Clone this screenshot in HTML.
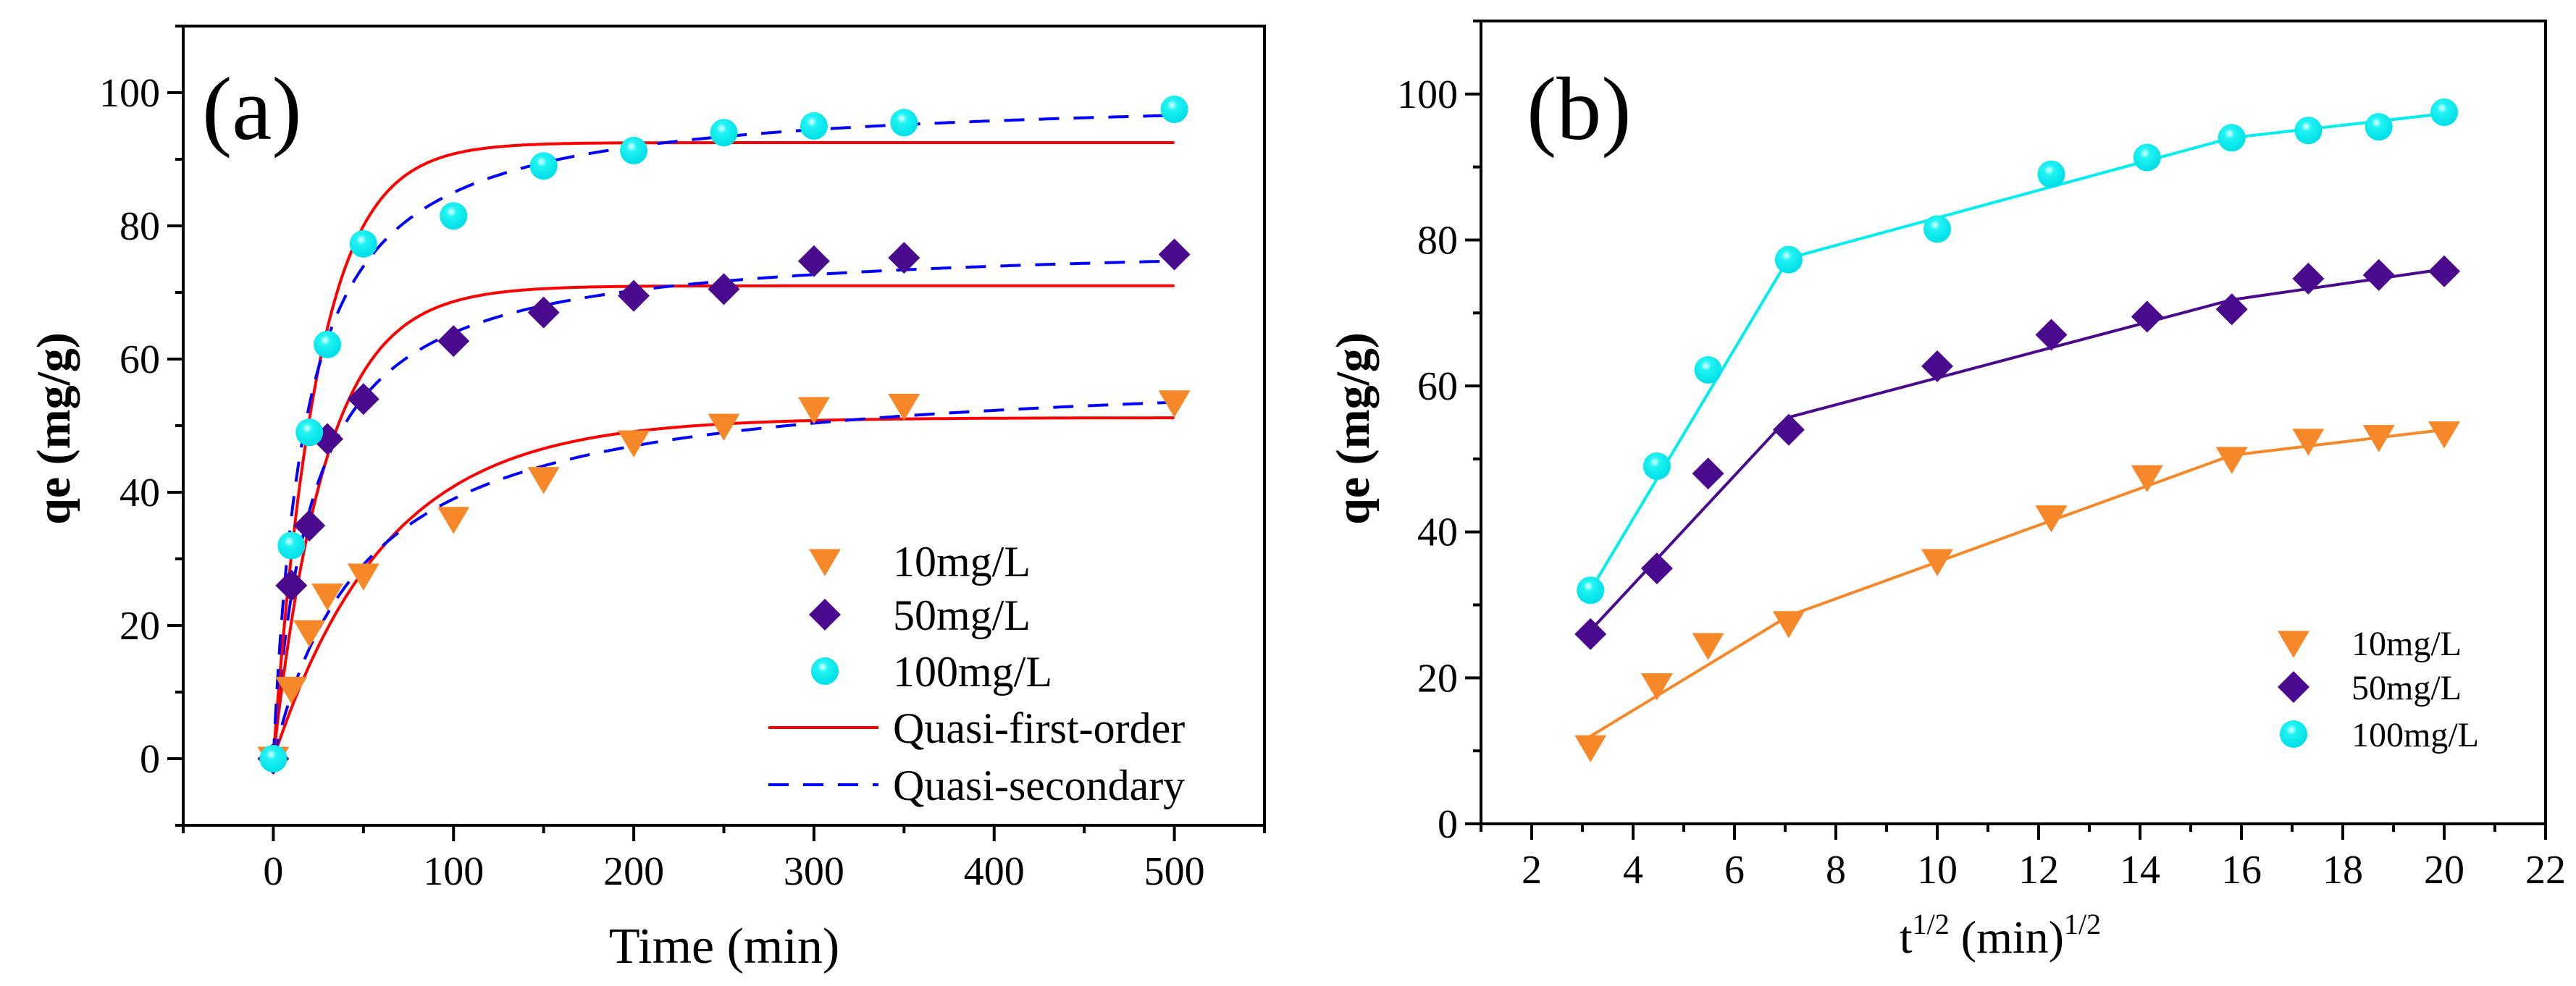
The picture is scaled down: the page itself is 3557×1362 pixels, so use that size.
<!DOCTYPE html>
<html><head><meta charset="utf-8"><style>
html,body{margin:0;padding:0;background:#fff;font-family:"Liberation Serif",serif;}
svg{display:block;font-family:"Liberation Serif",serif;}
svg text{font-family:"Liberation Serif",serif;}
</style></head><body>
<svg id="c" width="3557" height="1362" viewBox="0 0 3557 1362" xmlns="http://www.w3.org/2000/svg" font-family="Liberation Serif, serif">
<defs>
<radialGradient id="sph" cx="0.42" cy="0.35" r="0.6">
<stop offset="0" stop-color="#e8ffff"/><stop offset="0.3" stop-color="#22f4f4"/><stop offset="1" stop-color="#00e0e8"/>
</radialGradient>
</defs>
</svg>
<script>
// ---- data ----
const timesA = [0,10,20,30,50,100,150,200,250,300,350,500];
const q10 = [0,10.5,19,24.5,27.5,36,42,47.5,50,52.5,53,53.5];
const q50 = [0,26,35,48,54,62.7,67,69.5,70.5,74.7,75.2,75.7];
const q100 = [0,32,49,62.2,77.3,81.5,89,91.3,94,95,95.5,97.5];
const sqrtT = [3.16,4.47,5.48,7.07,10,12.25,14.14,15.81,17.32,18.71,20];
const b10 = [10.5,19,24.5,27.5,36,42,47.5,50,52.5,53,53.5];
const b50 = [26,35,48,54,62.7,67,69.5,70.5,74.7,75.2,75.7];
const b100 = [32,49,62.2,77.3,81.5,89,91.3,94,95,95.5,97.5];
const pfoQe = [51.2,71,92.5];
const pfoK = [0.016,0.034,0.04];
const psoQe = [59,78,100];
const psoQeK = [0.0195,0.0456,0.0567];
const ipdX10 = [3.16,7.07,15.81,20], ipdY10 = [12,28.5,50.5,54];
const ipdX50 = [3.16,7.07,15.81,20], ipdY50 = [26.5,55.7,71.8,76];
const ipdX100 = [3.16,7.07,15.81,20], ipdY100 = [32,77.5,94,97.3];
const xTicksA = [0,100,200,300,400,500];
const yTicksA = [0,20,40,60,80,100];
const xTicksB = [2,4,6,8,10,12,14,16,18,20,22];
const yTicksB = [0,20,40,60,80,100];

const svg = document.getElementById('c');
const NS = 'http://www.w3.org/2000/svg';
const FF = '"Liberation Serif", serif';
function mk(tag, attrs, parent){const e=document.createElementNS(NS,tag);for(const k in attrs)e.setAttribute(k,attrs[k]);if(tag==='text')e.style.fontFamily=FF;(parent||svg).appendChild(e);return e;}

const ORANGE='#f7882a', PURPLE='#4a0a8e';
const A={x0:253,x1:1746,y0:36,y1:1140,xmin:-50,xmax:550,ymin:-10,ymax:110};
const B={x0:2045,x1:3515,y0:29,y1:1138,xmin:1,xmax:22,ymin:0,ymax:110};
function sx(P,v){return P.x0+(v-P.xmin)/(P.xmax-P.xmin)*(P.x1-P.x0);}
function sy(P,v){return P.y1-(v-P.ymin)/(P.ymax-P.ymin)*(P.y1-P.y0);}

function tri(g,x,y,s){return mk('polygon',{points:`${x-s},${y-s*0.75} ${x+s},${y-s*0.75} ${x},${y+s*0.95}`,fill:ORANGE},g);}
function dia(g,x,y,s){return mk('polygon',{points:`${x},${y-s} ${x+s},${y} ${x},${y+s} ${x-s},${y}`,fill:PURPLE},g);}
function cir(g,x,y,r){return mk('circle',{cx:x,cy:y,r:r,fill:'url(#sph)'},g);}

function frame(P,name,xt,yt,xminor,yminor){
  const g=mk('g',{});
  
  
  mk('rect',{x:P.x0,y:P.y0,width:P.x1-P.x0,height:P.y1-P.y0,fill:'none',stroke:'#000','stroke-width':4},g);
  xt.forEach(v=>{const x=sx(P,v);mk('line',{x1:x,x2:x,y1:P.y1,y2:P.y1+22,stroke:'#000','stroke-width':4},g);
    const t=mk('text',{x:x,y:P.y1+82,'font-size':56,'text-anchor':'middle'},g);t.textContent=v;
    
    });
  xminor.forEach(v=>{const x=sx(P,v);mk('line',{x1:x,x2:x,y1:P.y1,y2:P.y1+11,stroke:'#000','stroke-width':4},g);});
  yt.forEach(v=>{const y=sy(P,v);mk('line',{x1:P.x0,x2:P.x0-22,y1:y,y2:y,stroke:'#000','stroke-width':4},g);
    const t=mk('text',{x:P.x0-32,y:y+19,'font-size':56,'text-anchor':'end'},g);t.textContent=v;
    
    });
  yminor.forEach(v=>{const y=sy(P,v);mk('line',{x1:P.x0,x2:P.x0-11,y1:y,y2:y,stroke:'#000','stroke-width':4},g);});
}
frame(A,'panel-a',xTicksA,yTicksA,[-50,50,150,250,350,450,550],[-10,10,30,50,70,90,110]);
frame(B,'panel-b',xTicksB,yTicksB,[1,3,5,7,9,11,13,15,17,19,21],[10,30,50,70,90,110]);

function curve(P,f,tmax,attrs,name){
  let d='';for(let i=0;i<=400;i++){const t=tmax*i/400;d+=(i?'L':'M')+sx(P,t).toFixed(1)+','+sy(P,f(t)).toFixed(1);}
  const e=mk('path',Object.assign({d:d,fill:'none'},attrs));
  
  
}
for(let i=0;i<3;i++){
  curve(A,t=>pfoQe[i]*(1-Math.exp(-pfoK[i]*t)),500,{stroke:'#ff0000','stroke-width':4},'pfo-fit-line');
  curve(A,t=>psoQe[i]*psoQeK[i]*t/(1+psoQeK[i]*t),500,{stroke:'#0000ff','stroke-width':4,'stroke-dasharray':'28,20'},'pso-fit-line');
}
const gA=mk('g',{});


timesA.forEach((t,i)=>{tri(gA,sx(A,t),sy(A,q10[i]),22);});
timesA.forEach((t,i)=>{dia(gA,sx(A,t),sy(A,q50[i]),22);});
timesA.forEach((t,i)=>{cir(gA,sx(A,t),sy(A,q100[i]),19);});

function poly(P,xs,ys,col,name){const e=mk('polyline',{points:xs.map((x,i)=>sx(P,x)+','+sy(P,ys[i])).join(' '),fill:'none',stroke:col,'stroke-width':4});
  
  }
poly(B,ipdX10,ipdY10,ORANGE,'ipd-line-10');
poly(B,ipdX50,ipdY50,PURPLE,'ipd-line-50');
poly(B,ipdX100,ipdY100,'#00eeee','ipd-line-100');
const gB=mk('g',{});


sqrtT.forEach((x,i)=>{tri(gB,sx(B,x),sy(B,b10[i]),22);});
sqrtT.forEach((x,i)=>{dia(gB,sx(B,x),sy(B,b50[i]),22);});
sqrtT.forEach((x,i)=>{cir(gB,sx(B,x),sy(B,b100[i]),19);});

const lgA=mk('g',{});


tri(lgA,1139,775,22);dia(lgA,1139,849,22);cir(lgA,1139,927,19);
mk('line',{x1:1061,x2:1213,y1:1005,y2:1005,stroke:'#ff0000','stroke-width':4},lgA);
mk('line',{x1:1061,x2:1213,y1:1084,y2:1084,stroke:'#0000ff','stroke-width':4,'stroke-dasharray':'28,20'},lgA);
[['10mg/L',775],['50mg/L',849],['100mg/L',927],['Quasi-first-order',1005],['Quasi-secondary',1084]].forEach(([s,y])=>{
  const t=mk('text',{x:1233,y:y+21,'font-size':60},lgA);t.textContent=s;
  
  });
const lgB=mk('g',{});


tri(lgB,3167,888,22);dia(lgB,3167,949,22);cir(lgB,3167,1014,19);
[['10mg/L',888],['50mg/L',949],['100mg/L',1014]].forEach(([s,y])=>{
  const t=mk('text',{x:3247,y:y+17,'font-size':48},lgB);t.textContent=s;
  
  });

function txt(s,attrs,name){const t=mk('text',attrs);t.textContent=s;return t;}
txt('(a)',{x:279,y:192,'font-size':124},'panel-a-label');
txt('(b)',{x:2108,y:192,'font-size':124},'panel-b-label');
txt('Time (min)',{x:1000,y:1330,'font-size':70,'text-anchor':'middle'},'x-axis-title-a');
txt('qe (mg/g)',{x:0,y:0,'font-size':66,'font-weight':'bold','text-anchor':'middle',transform:'translate(96,592) rotate(-90)'},'y-axis-title-a');
txt('qe (mg/g)',{x:0,y:0,'font-size':66,'font-weight':'bold','text-anchor':'middle',transform:'translate(1890,592) rotate(-90)'},'y-axis-title-b');
const xb=txt('',{x:2762,y:1316,'font-size':64,'text-anchor':'middle'},'x-axis-title-b');
xb.innerHTML='t<tspan font-size="40" dy="-26">1/2</tspan><tspan dy="26"> (min)</tspan><tspan font-size="40" dy="-26">1/2</tspan>';
</script>
</body></html>
